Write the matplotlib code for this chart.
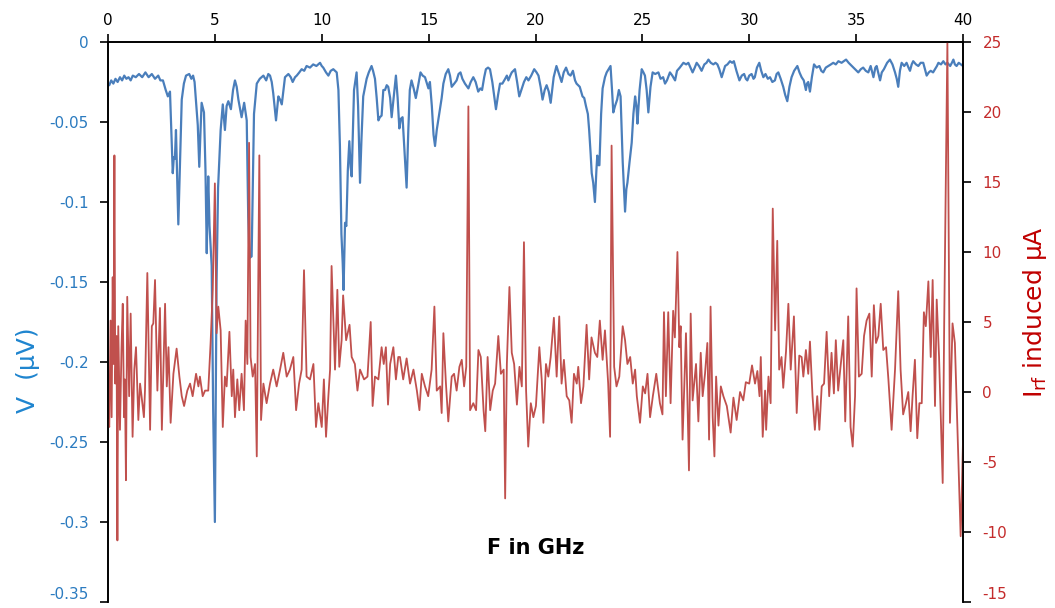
import matplotlib
matplotlib.use("Agg")
import matplotlib.pyplot as plt

plt.rcParams["axes.unicode_minus"] = False

# blue trace: V (uV) against F (GHz)
f_v = [0.0, 0.06, 0.15, 0.25, 0.35, 0.45, 0.56, 0.66, 0.76, 0.86, 0.96, 1.06, 1.16, 1.3, 1.45, 1.6, 1.75, 1.9,
       2.05, 2.2, 2.35, 2.45, 2.57, 2.7, 2.8, 2.9, 3.03, 3.08, 3.13, 3.18, 3.29, 3.45, 3.55, 3.65, 3.8, 3.9,
       3.98, 4.05, 4.12, 4.2, 4.27, 4.33, 4.38, 4.49, 4.56, 4.62, 4.66, 4.69, 4.75, 4.85, 4.92, 5.0, 5.08,
       5.15, 5.27, 5.37, 5.47, 5.55, 5.63, 5.75, 5.85, 5.94, 6.02, 6.1, 6.25, 6.37, 6.49, 6.56, 6.62, 6.72,
       6.83, 6.96, 7.1, 7.27, 7.4, 7.5, 7.58, 7.66, 7.73, 7.86, 7.97, 8.05, 8.13, 8.28, 8.44, 8.55, 8.64,
       8.75, 8.83, 8.95, 9.06, 9.18, 9.29, 9.45, 9.6, 9.75, 9.92, 10.0, 10.07, 10.2, 10.31, 10.42, 10.54,
       10.7, 10.78, 10.85, 10.92, 10.98, 11.02, 11.09, 11.15, 11.22, 11.29, 11.35, 11.4, 11.51, 11.63, 11.7,
       11.79, 11.86, 11.94, 12.1, 12.2, 12.33, 12.4, 12.49, 12.57, 12.65, 12.72, 12.8, 12.88, 12.96, 13.04,
       13.11, 13.2, 13.27, 13.36, 13.47, 13.55, 13.63, 13.7, 13.78, 13.88, 13.97, 14.05, 14.12, 14.2, 14.3,
       14.4, 14.5, 14.62, 14.72, 14.83, 14.92, 14.99, 15.06, 15.15, 15.23, 15.3, 15.38, 15.45, 15.55, 15.61,
       15.69, 15.8, 15.92, 16.0, 16.08, 16.2, 16.31, 16.4, 16.49, 16.58, 16.7, 16.86, 16.97, 17.09, 17.2,
       17.32, 17.42, 17.5, 17.6, 17.68, 17.78, 17.87, 17.98, 18.08, 18.15, 18.25, 18.34, 18.45, 18.58,
       18.66, 18.73, 18.82, 18.89, 19.04, 19.14, 19.24, 19.34, 19.46, 19.57, 19.67, 19.8, 19.94, 20.05,
       20.14, 20.24, 20.33, 20.43, 20.52, 20.62, 20.71, 20.85, 20.98, 21.1, 21.22, 21.32, 21.43, 21.54,
       21.64, 21.75, 21.85, 21.92, 22.07, 22.2, 22.28, 22.36, 22.45, 22.51, 22.58, 22.63, 22.7, 22.78,
       22.85, 22.89, 22.95, 22.99, 23.07, 23.14, 23.25, 23.33, 23.42, 23.51, 23.58, 23.64, 23.72, 23.82,
       23.9, 23.98, 24.08, 24.19, 24.25, 24.3, 24.4, 24.5, 24.58, 24.66, 24.72, 24.77, 24.87, 24.97, 25.05,
       25.12, 25.2, 25.28, 25.38, 25.48, 25.6, 25.75, 25.85, 25.97, 26.06, 26.15, 26.29, 26.4, 26.53, 26.62,
       26.75, 26.92, 27.05, 27.15, 27.25, 27.35, 27.45, 27.54, 27.65, 27.77, 27.9, 28.0, 28.09, 28.2, 28.32,
       28.42, 28.51, 28.6, 28.71, 28.8, 28.87, 28.98, 29.1, 29.2, 29.28, 29.4, 29.54, 29.65, 29.76, 29.84,
       29.91, 30.0, 30.11, 30.2, 30.26, 30.36, 30.47, 30.56, 30.66, 30.76, 30.87, 30.97, 31.08, 31.2, 31.28,
       31.36, 31.47, 31.59, 31.68, 31.78, 31.88, 31.98, 32.1, 32.25, 32.35, 32.45, 32.55, 32.65, 32.7, 32.76,
       32.84, 32.93, 33.03, 33.15, 33.28, 33.37, 33.46, 33.58, 33.7, 33.82, 33.93, 34.05, 34.17, 34.32,
       34.42, 34.53, 34.65, 34.8, 34.95, 35.1, 35.22, 35.33, 35.45, 35.57, 35.68, 35.81, 35.9, 35.96, 36.05,
       36.12, 36.2, 36.3, 36.45, 36.58, 36.7, 36.82, 36.9, 36.97, 37.05, 37.13, 37.25, 37.36, 37.45, 37.52,
       37.6, 37.67, 37.8, 37.91, 38.02, 38.14, 38.22, 38.3, 38.4, 38.49, 38.6, 38.69, 38.78, 38.85, 38.97,
       39.08, 39.18, 39.27, 39.4, 39.48, 39.55, 39.62, 39.7, 39.8, 39.9, 40.0]
v = [-0.027, -0.027, -0.024, -0.026, -0.023, -0.025, -0.022, -0.024, -0.021, -0.023, -0.022, -0.024, -0.021,
     -0.022, -0.020, -0.022, -0.019, -0.022, -0.020, -0.023, -0.021, -0.024, -0.024, -0.030, -0.034, -0.031,
     -0.082, -0.072, -0.073, -0.055, -0.114, -0.036, -0.026, -0.021, -0.020, -0.023, -0.021, -0.025, -0.038,
     -0.052, -0.078, -0.055, -0.038, -0.044, -0.080, -0.132, -0.100, -0.084, -0.115, -0.140, -0.230, -0.300,
     -0.150, -0.091, -0.055, -0.039, -0.055, -0.040, -0.037, -0.042, -0.030, -0.024, -0.028, -0.036, -0.047,
     -0.038, -0.049, -0.109, -0.135, -0.134, -0.045, -0.026, -0.023, -0.021, -0.024, -0.020, -0.021, -0.025,
     -0.032, -0.049, -0.034, -0.036, -0.039, -0.022, -0.020, -0.022, -0.025, -0.022, -0.021, -0.019, -0.017,
     -0.018, -0.015, -0.016, -0.014, -0.015, -0.013, -0.015, -0.016, -0.019, -0.021, -0.018, -0.017, -0.019,
     -0.030, -0.065, -0.120, -0.138, -0.155, -0.113, -0.115, -0.080, -0.062, -0.078, -0.084, -0.030, -0.019,
     -0.040, -0.088, -0.060, -0.034, -0.023, -0.019, -0.015, -0.018, -0.023, -0.035, -0.049, -0.047, -0.046,
     -0.030, -0.030, -0.027, -0.028, -0.035, -0.047, -0.035, -0.021, -0.035, -0.054, -0.048, -0.047, -0.070,
     -0.091, -0.055, -0.030, -0.024, -0.029, -0.035, -0.028, -0.019, -0.021, -0.022, -0.026, -0.029, -0.025,
     -0.040, -0.058, -0.065, -0.055, -0.049, -0.040, -0.035, -0.026, -0.020, -0.017, -0.021, -0.028, -0.026,
     -0.024, -0.020, -0.019, -0.023, -0.026, -0.029, -0.025, -0.022, -0.025, -0.031, -0.029, -0.030, -0.022,
     -0.017, -0.016, -0.017, -0.025, -0.035, -0.042, -0.033, -0.026, -0.026, -0.023, -0.021, -0.024, -0.021,
     -0.019, -0.017, -0.025, -0.034, -0.030, -0.025, -0.022, -0.024, -0.021, -0.017, -0.019, -0.021, -0.028,
     -0.036, -0.030, -0.027, -0.031, -0.038, -0.022, -0.015, -0.020, -0.025, -0.019, -0.016, -0.020, -0.021,
     -0.018, -0.024, -0.026, -0.028, -0.034, -0.035, -0.040, -0.045, -0.055, -0.070, -0.082, -0.088, -0.100,
     -0.080, -0.071, -0.077, -0.077, -0.045, -0.029, -0.022, -0.019, -0.017, -0.015, -0.030, -0.044, -0.040,
     -0.036, -0.030, -0.034, -0.075, -0.106, -0.092, -0.088, -0.075, -0.063, -0.045, -0.034, -0.040, -0.051,
     -0.030, -0.017, -0.019, -0.021, -0.030, -0.044, -0.028, -0.019, -0.020, -0.019, -0.023, -0.022, -0.026,
     -0.024, -0.019, -0.021, -0.024, -0.018, -0.016, -0.013, -0.014, -0.013, -0.016, -0.019, -0.016, -0.013,
     -0.015, -0.018, -0.014, -0.013, -0.011, -0.013, -0.014, -0.013, -0.014, -0.017, -0.022, -0.018, -0.015,
     -0.014, -0.012, -0.013, -0.012, -0.018, -0.024, -0.021, -0.020, -0.023, -0.024, -0.021, -0.020, -0.023,
     -0.022, -0.016, -0.013, -0.018, -0.022, -0.020, -0.023, -0.022, -0.025, -0.024, -0.020, -0.019, -0.023,
     -0.028, -0.033, -0.037, -0.028, -0.022, -0.018, -0.015, -0.019, -0.022, -0.024, -0.030, -0.026, -0.025,
     -0.031, -0.022, -0.014, -0.016, -0.015, -0.018, -0.019, -0.016, -0.015, -0.014, -0.013, -0.014, -0.012,
     -0.013, -0.012, -0.011, -0.013, -0.015, -0.017, -0.019, -0.017, -0.016, -0.018, -0.019, -0.015, -0.022,
     -0.016, -0.015, -0.020, -0.024, -0.019, -0.017, -0.013, -0.011, -0.014, -0.019, -0.023, -0.028, -0.018,
     -0.013, -0.015, -0.013, -0.016, -0.018, -0.014, -0.012, -0.014, -0.015, -0.013, -0.013, -0.017, -0.021,
     -0.019, -0.018, -0.019, -0.017, -0.015, -0.013, -0.014, -0.012, -0.014, -0.013, -0.015, -0.013, -0.011,
     -0.014, -0.015, -0.013, -0.014, -0.015]

# red trace: induced I_rf (uA) against F (GHz)
f_i = [0.0, 0.06, 0.12, 0.17, 0.22, 0.26, 0.3, 0.34, 0.4, 0.44, 0.48, 0.56, 0.63, 0.69, 0.75, 0.79, 0.84, 0.9,
       0.99, 1.06, 1.15, 1.23, 1.31, 1.42, 1.5, 1.57, 1.68, 1.73, 1.84, 1.97, 2.05, 2.12, 2.2, 2.31, 2.43,
       2.52, 2.67, 2.75, 2.83, 2.93, 3.06, 3.21, 3.34, 3.45, 3.56, 3.71, 3.84, 3.96, 4.12, 4.23, 4.3, 4.43,
       4.54, 4.69, 4.8, 4.9, 5.0, 5.08, 5.16, 5.27, 5.37, 5.47, 5.55, 5.68, 5.79, 5.86, 5.94, 6.05, 6.14,
       6.25, 6.36, 6.44, 6.52, 6.6, 6.67, 6.77, 6.88, 6.96, 7.08, 7.16, 7.27, 7.42, 7.58, 7.73, 7.89, 8.05,
       8.2, 8.36, 8.51, 8.67, 8.8, 8.94, 9.06, 9.17, 9.29, 9.45, 9.61, 9.73, 9.84, 10.0, 10.1, 10.2, 10.31,
       10.39, 10.46, 10.62, 10.73, 10.82, 10.93, 11.0, 11.14, 11.3, 11.4, 11.55, 11.67, 11.79, 11.98, 12.14,
       12.29, 12.38, 12.49, 12.65, 12.8, 12.9, 13.0, 13.1, 13.2, 13.35, 13.47, 13.58, 13.66, 13.81, 13.97,
       14.13, 14.29, 14.45, 14.57, 14.68, 14.83, 14.98, 15.14, 15.27, 15.38, 15.54, 15.61, 15.69, 15.81,
       15.92, 16.08, 16.19, 16.31, 16.44, 16.55, 16.66, 16.76, 16.86, 16.94, 17.09, 17.22, 17.33, 17.44,
       17.57, 17.65, 17.76, 17.88, 18.0, 18.11, 18.26, 18.38, 18.51, 18.58, 18.66, 18.78, 18.89, 19.0,
       19.13, 19.25, 19.36, 19.46, 19.56, 19.66, 19.78, 19.9, 20.02, 20.18, 20.29, 20.37, 20.49, 20.6,
       20.71, 20.86, 20.99, 21.11, 21.22, 21.33, 21.46, 21.58, 21.69, 21.8, 21.93, 22.0, 22.13, 22.24,
       22.39, 22.51, 22.62, 22.78, 22.89, 23.01, 23.14, 23.25, 23.4, 23.49, 23.56, 23.68, 23.79, 23.92,
       24.08, 24.19, 24.3, 24.43, 24.55, 24.66, 24.74, 24.89, 25.02, 25.13, 25.24, 25.36, 25.49, 25.65,
       25.82, 25.94, 26.01, 26.1, 26.21, 26.32, 26.44, 26.52, 26.64, 26.73, 26.79, 26.88, 27.04, 27.18,
       27.26, 27.35, 27.51, 27.62, 27.73, 27.82, 27.93, 28.04, 28.12, 28.19, 28.29, 28.37, 28.45, 28.56,
       28.67, 28.79, 28.95, 29.13, 29.26, 29.41, 29.57, 29.72, 29.84, 30.0, 30.13, 30.27, 30.38, 30.48,
       30.54, 30.63, 30.74, 30.79, 30.9, 31.0, 31.1, 31.21, 31.31, 31.4, 31.51, 31.59, 31.72, 31.83, 31.94,
       32.09, 32.22, 32.34, 32.45, 32.53, 32.65, 32.76, 32.84, 32.96, 33.07, 33.18, 33.28, 33.39, 33.5,
       33.62, 33.74, 33.85, 33.96, 34.05, 34.16, 34.27, 34.4, 34.49, 34.63, 34.74, 34.84, 34.95, 35.02,
       35.13, 35.26, 35.37, 35.49, 35.62, 35.73, 35.83, 35.93, 36.04, 36.15, 36.27, 36.4, 36.51, 36.66,
       36.82, 36.97, 37.08, 37.2, 37.33, 37.44, 37.55, 37.64, 37.75, 37.86, 37.96, 38.07, 38.17, 38.26,
       38.38, 38.49, 38.58, 38.69, 38.77, 38.88, 39.05, 39.12, 39.27, 39.39, 39.51, 39.62, 39.73, 39.89,
       39.94, 40.0]
i_rf = [-2.0, -2.5, 5.1, -1.8, 8.2, 2.0, 16.9, 0.6, 4.0, -10.6, 4.7, -2.7, 3.0, 6.3, -1.8, 0.9, -6.3, 6.8,
        -0.3, 5.6, -3.2, 1.6, 3.2, -2.0, 0.6, -0.3, -1.8, 0.1, 8.5, -2.7, 4.7, 4.9, 8.0, 0.1, 6.0, -2.7, 6.3,
        0.4, 3.2, -2.2, 1.3, 3.1, 1.1, -0.3, -1.0, 0.1, 0.6, -0.3, 1.3, 0.4, 1.1, -0.3, 0.1, 0.1, 3.5, 7.3,
        14.9, 4.2, 6.1, 4.4, -2.5, 1.1, 0.4, 4.3, -0.3, 1.6, -1.8, 0.9, -1.3, 1.3, -1.3, 5.1, 2.0, 17.8, 2.5,
        1.1, 2.0, -4.6, 16.9, -2.0, 0.6, -0.8, 0.6, 1.6, 0.4, 1.6, 2.8, 1.1, 1.6, 2.5, -1.3, 0.6, 1.6, 8.7,
        1.1, 0.9, 2.0, -2.5, -0.8, -2.5, 0.9, -3.2, -0.3, 1.6, 9.0, 1.6, 7.3, 1.8, 3.7, 6.9, 3.7, 4.8, 2.5,
        2.0, 0.1, 1.6, 0.9, 1.1, 5.0, -1.0, 1.1, 0.9, 3.2, 2.0, 3.2, -0.9, 2.0, 3.2, 0.9, 2.5, 2.5, 0.9, 2.4,
        0.6, 1.6, 0.1, -1.3, 1.3, 0.4, -0.3, 1.6, 6.1, 0.1, 0.4, -1.5, 4.2, 0.6, -2.1, 1.1, 1.3, 0.1, 1.8,
        2.3, 0.4, 1.8, 20.4, -1.3, -0.8, -1.3, 3.0, 2.5, -1.3, -2.8, 2.5, -1.3, 0.1, 0.6, 4.0, 1.3, 1.6,
        -7.6, 2.0, 7.5, 2.8, 2.0, -0.9, 1.8, 0.4, 10.7, 0.1, -3.9, -0.8, -1.8, -1.0, 3.2, 0.9, -2.2, 2.0,
        1.1, 2.5, 5.3, 1.1, 5.4, 0.6, 2.3, -0.3, -0.6, -2.2, 1.3, 0.6, 1.8, -0.8, 0.4, 4.8, 0.9, 3.9, 2.8,
        2.5, 5.1, 2.3, 4.4, 0.6, -3.2, 17.6, 1.8, 0.4, 1.1, 4.7, 3.7, 2.0, 2.5, 0.6, 1.6, -0.3, -2.2, 0.4,
        -0.1, 1.3, -1.8, -0.3, 1.3, -0.8, -1.6, 5.7, -0.3, 5.7, -0.8, 5.8, 3.9, 10.0, 3.2, 4.7, -3.4, 4.2,
        -5.6, 5.6, -0.6, 2.0, -2.1, 2.8, -0.3, 1.3, 3.5, -3.4, 6.1, -1.8, -4.6, 1.1, -2.4, 0.4, -0.3, -1.0,
        -2.9, -0.4, -2.0, 0.0, -0.6, 0.7, 0.6, 1.9, 0.6, 1.5, -0.3, 2.5, -3.2, 0.1, -2.7, 1.1, -0.8, 13.1,
        4.4, 10.8, 1.6, 2.5, 0.3, 2.9, 6.3, 1.6, 5.4, -1.5, 2.6, 2.5, 1.1, 3.0, 1.3, 3.6, -0.3, -2.7, -0.3,
        -2.7, 0.4, 0.6, 4.3, -0.3, 2.8, -0.1, 3.7, 0.1, 1.8, 3.7, -2.1, 5.4, -2.5, -3.9, -0.3, 7.4, 1.1, 1.3,
        4.0, 5.1, 5.6, 1.1, 6.2, 3.5, 4.0, 6.3, 3.0, 3.2, 0.9, -2.7, 1.6, 7.2, 1.6, -1.6, -0.8, 0.0, -2.8,
        -0.3, 2.3, -3.3, -0.8, -0.8, 5.7, 4.7, 7.9, 2.5, 8.0, -1.0, 6.6, 2.5, -6.5, 4.9, 25.0, -2.2, 4.9,
        3.5, -2.2, -10.3, -7.5, -3.5]

x_ticks = [0, 5, 10, 15, 20, 25, 30, 35, 40]
v_ticks = [0, -0.05, -0.1, -0.15, -0.2, -0.25, -0.3, -0.35]
v_tick_labels = ["0", "-0.05", "-0.1", "-0.15", "-0.2", "-0.25", "-0.3", "-0.35"]
i_ticks = [25, 20, 15, 10, 5, 0, -5, -10, -15]

blue = "#4a7ebb"
red = "#c0504d"

fig = plt.figure(figsize=(10.55, 6.08), dpi=100)
ax = fig.add_axes([108 / 1055, 6 / 608, 855 / 1055, 560 / 608])
ax2 = ax.twinx()

ax.plot(f_v, v, color=blue, lw=1.6)
ax2.plot(f_i, i_rf, color=red, lw=1.3)

ax.set_xlim(0, 40)
ax.set_ylim(-0.35, 0)
ax2.set_ylim(-15, 25)

# x axis on top
ax.xaxis.tick_top()
ax.set_xticks(x_ticks)
ax.tick_params(axis="x", direction="out", length=6, width=1.2, labelsize=11, pad=4, colors="black")

ax.set_yticks(v_ticks)
ax.set_yticklabels(v_tick_labels)
ax.tick_params(axis="y", direction="out", length=6, width=1.2, labelsize=11, pad=8, labelcolor="#2b7bc0")
ax2.set_yticks(i_ticks)
ax2.tick_params(axis="y", direction="out", length=6, width=1.2, labelsize=11, pad=8, labelcolor="#c42b2b")

# keep the lowest labels inside the picture
ax.get_yticklabels()[-1].set_va("bottom")
ax2.get_yticklabels()[-1].set_va("bottom")

for a in (ax, ax2):
    a.spines["bottom"].set_visible(False)
    for s in ("top", "left", "right"):
        a.spines[s].set_linewidth(1.2)

fig.text(28 / 1055, 1 - 370 / 608, "V  (μV)", rotation=90, color="#1f85cf", fontsize=18,
         ha="center", va="center")
fig.text(1035 / 1055, 1 - 312 / 608, r"I$_\mathregular{rf}$ induced μA", rotation=90, color="#c00000",
         fontsize=18, ha="center", va="center")
ax.text(20, -0.316, "F in GHz", fontsize=15, fontweight="bold", ha="center", va="center")

fig.savefig("out.png", dpi=100)
